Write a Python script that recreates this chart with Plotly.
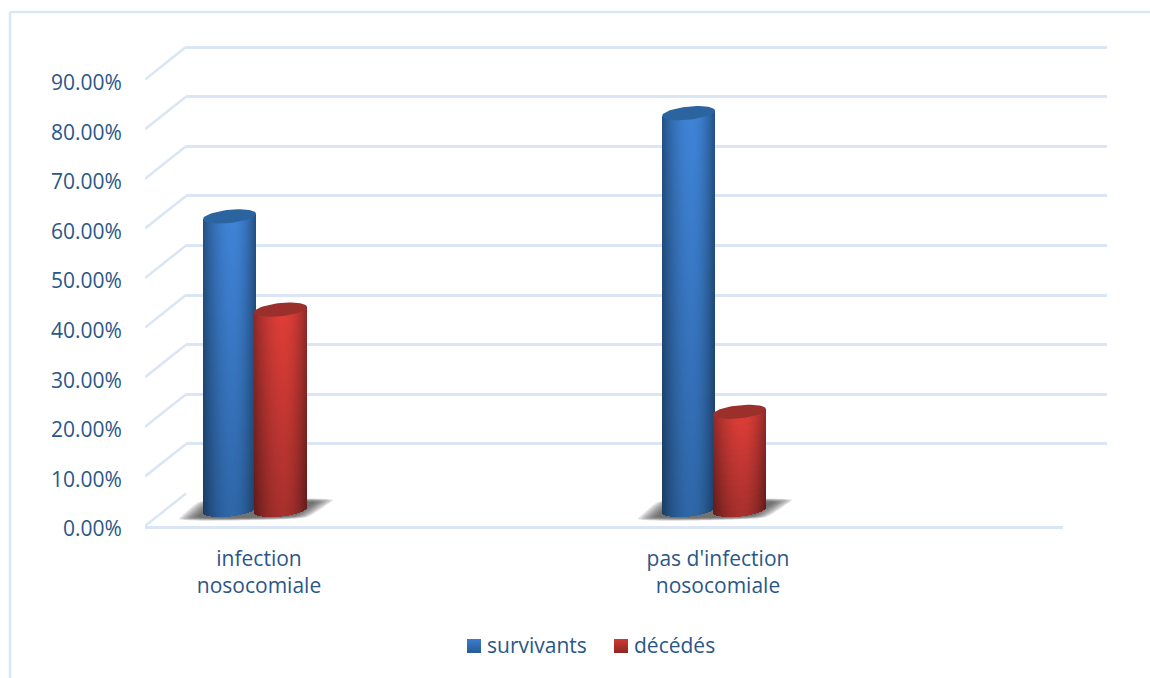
import math
import plotly.graph_objects as go

W, H = 1150, 678

categories = ["infection<br>nosocomiale", "pas d'infection<br>nosocomiale"]
survivants = [59.2, 80.0]
decedes = [40.4, 19.8]
y_ticks = [0, 10, 20, 30, 40, 50, 60, 70, 80, 90]
y_tick_labels = ["0.00%", "10.00%", "20.00%", "30.00%", "40.00%", "50.00%", "60.00%", "70.00%", "80.00%", "90.00%"]

# scene geometry (pixels)
FRONT_L, FRONT_R, FRONT_0 = 145, 1063, 526
BACK_L, BACK_R, BACK_0 = 186, 1107, 493.5
TOP = 30
CAT0_PX, CAT_STEP = 259, 459
PX_Y = 49.6 / 10  # pixels per percentage point
GRID = "#dae5f5"
TXT = "#2a5788"
FONT = "Open Sans"
FS = 21

x_range = [(FRONT_L - CAT0_PX) / CAT_STEP, (FRONT_R - CAT0_PX) / CAT_STEP]
y_range = [0, (FRONT_0 - TOP) / PX_Y]
back_y_range = [0, (BACK_0 - TOP) / PX_Y]
dx = lambda px: px / CAT_STEP
dy = lambda px: px / PX_Y

MID = dy(16)            # floor position of the cylinders' axis
A, B, TILT = 26.5, 6.6, 2.6
OFFSETS = {"blue": -29.5, "red": 21.5}


def mix(c1, c2, f):
    return tuple(a + (b - a) * f for a, b in zip(c1, c2))


PAL = {
    "blue": dict(top=(64, 132, 216), bot=(47, 103, 168), etop=(36, 80, 130), ebot=(26, 60, 98), cap="#2c649f", mid="#3470b8",
                 sw_top=(60, 125, 205), sw_bot=(40, 90, 150)),
    "red": dict(top=(224, 62, 56), bot=(166, 48, 45), etop=(142, 42, 40), ebot=(96, 28, 26), cap="#9b2f2b", mid="#c5332f",
                sw_top=(208, 58, 52), sw_bot=(140, 38, 36)),
}
LEGEND_SW = {"blue": 467, "red": 614}


def cylinder(cat_i, value, key):
    p = PAL[key]
    cx = cat_i + dx(OFFSETS[key])
    xs, bases, hs, cols = [], [], [], []
    n = 53
    step = 2 * A / n
    top_c = value + MID
    for i in range(n):
        px = -A + (i + 0.5) * step
        t = px / A
        bottom = MID + dy(TILT * t) - dy(B * math.sqrt(max(0, 1 - t * t)))
        top = top_c + dy(TILT * t)
        q = abs(t - 0.12) / (1.12 if t < 0.12 else 0.88)
        edge = q ** 1.9
        rows = max(2, int((top - bottom) * PX_Y / 6))
        for r in range(rows):
            y0 = bottom + (top - bottom) * r / rows
            y1 = bottom + (top - bottom) * (r + 1) / rows
            v = (r + 0.5) / rows
            col = mix(mix(p["ebot"], p["etop"], v), mix(p["bot"], p["top"], v), 1 - edge)
            xs.append(cx + dx(px))
            bases.append(y0)
            hs.append(y1 - y0)
            cols.append("rgb(%d,%d,%d)" % col)
    body = go.Bar(x=xs, y=hs, base=bases, width=dx(step), marker=dict(color=cols, line=dict(width=0)),
                  xaxis="x3", yaxis="y3", showlegend=False, hoverinfo="skip")
    cap_x, cap_y = [], []
    for k in range(61):
        s = 2 * math.pi * k / 60
        cap_x.append(cx + dx(A * math.cos(s)))
        cap_y.append(top_c + dy(TILT * math.cos(s) + B * math.sin(s)))
    cap = go.Scatter(x=cap_x, y=cap_y, fill="toself", fillcolor=p["cap"], mode="lines", line=dict(width=0),
                     xaxis="x3", yaxis="y3", showlegend=False, hoverinfo="skip")
    return body, cap


def shadow(cat_i):
    shape = [(-80, 7), (-74, 13), (-60, 24), (0, 27), (74, 26), (66, 20), (48, 9), (0, 6)]
    cx, cy = -3, 16
    out = []
    for k in range(8):
        f = 1.0 - 0.035 * k
        xs = [cat_i + dx(cx + (a - cx) * f) for a, _ in shape + shape[:1]]
        ys = [dy(cy + (b - cy) * f) for _, b in shape + shape[:1]]
        out.append(go.Scatter(x=xs, y=ys, fill="toself", fillcolor="rgba(60,60,60,0.14)", mode="lines",
                              line=dict(width=0, shape="spline", smoothing=0.6), xaxis="x2", yaxis="y2",
                              showlegend=False, hoverinfo="skip"))
    return out


fig = go.Figure()

# back wall subplot: carries the back gridlines
fig.add_trace(go.Scatter(x=[0] * len(y_ticks), y=y_ticks, mode="markers", marker=dict(opacity=0),
                         xaxis="x", yaxis="y", showlegend=False, hoverinfo="skip"))

# side wall lines from the front scale to the back wall
side_x, side_y = [], []
for v in y_ticks:
    side_x += [x_range[0], x_range[0] + dx(BACK_L - FRONT_L), None]
    side_y += [v, v + dy(FRONT_0 - BACK_0), None]
fig.add_trace(go.Scatter(x=side_x, y=side_y, mode="lines", line=dict(color=GRID, width=2.5),
                         xaxis="x2", yaxis="y2", showlegend=False, hoverinfo="skip"))

for i in range(len(categories)):
    for tr in shadow(i):
        fig.add_trace(tr)

# named series: these give the legend entries; the shaded cylinders are drawn from the same values
fig.add_trace(go.Bar(x=[i + dx(OFFSETS["blue"]) for i in range(2)], y=survivants, base=MID, width=dx(40),
                     marker=dict(color=PAL["blue"]["mid"], line=dict(width=0)), opacity=0, name="survivants",
                     xaxis="x3", yaxis="y3", hoverinfo="skip"))
fig.add_trace(go.Bar(x=[i + dx(OFFSETS["red"]) for i in range(2)], y=decedes, base=MID, width=dx(40),
                     marker=dict(color=PAL["red"]["mid"], line=dict(width=0)), opacity=0, name="décédés",
                     xaxis="x3", yaxis="y3", hoverinfo="skip"))

caps = []
for i in range(2):
    for key, vals in (("blue", survivants), ("red", decedes)):
        b, c = cylinder(i, vals[i], key)
        fig.add_trace(b)
        caps.append(c)
for c in caps:
    fig.add_trace(c)

shapes = [
    dict(type="line", xref="paper", yref="paper", x0=10 / W, x1=1, y0=1 - 12 / H, y1=1 - 12 / H,
         line=dict(color=GRID, width=2.5), layer="below"),
    dict(type="line", xref="paper", yref="paper", x0=10 / W, x1=10 / W, y0=1 - 12 / H, y1=0,
         line=dict(color=GRID, width=2.5), layer="below"),
]
# gradient legend swatches
for key, left in LEGEND_SW.items():
    p = PAL[key]
    for r in range(14):
        c = mix(p["sw_top"], p["sw_bot"], (r + 0.5) / 14)
        shapes.append(dict(type="rect", xref="paper", yref="paper", x0=left / W, x1=(left + 14) / W,
                           y0=1 - (639 + r) / H, y1=1 - 653 / H,
                           fillcolor="rgb(%d,%d,%d)" % c, line=dict(width=0), layer="above"))

fig.update_layout(
    width=W, height=H, autosize=False,
    margin=dict(l=0, r=0, t=0, b=0, pad=0, autoexpand=False),
    paper_bgcolor="white", plot_bgcolor="rgba(0,0,0,0)",
    barmode="overlay", bargap=0,
    font=dict(family=FONT, size=FS, color=TXT),
    xaxis=dict(domain=[BACK_L / W, BACK_R / W], range=[0, 1], visible=False, anchor="y", fixedrange=True),
    yaxis=dict(domain=[1 - BACK_0 / H, 1 - TOP / H], range=back_y_range, tickvals=y_ticks, showticklabels=False,
               showgrid=True, gridcolor=GRID, gridwidth=2.5, zeroline=False, showline=False, ticks="",
               anchor="x", fixedrange=True),
    xaxis2=dict(domain=[FRONT_L / W, FRONT_R / W], range=x_range, visible=False, anchor="y2", fixedrange=True),
    yaxis2=dict(domain=[1 - FRONT_0 / H, 1 - TOP / H], range=y_range, visible=False, anchor="x2", fixedrange=True),
    xaxis3=dict(domain=[FRONT_L / W, FRONT_R / W], range=x_range, tickvals=[0, 1], ticktext=categories,
                showgrid=False, zeroline=False, showline=True, linecolor=GRID, linewidth=2.5,
                ticks="outside", ticklen=12, tickcolor="rgba(0,0,0,0)", tickfont=dict(family=FONT, size=FS, color=TXT),
                anchor="y3", fixedrange=True),
    yaxis3=dict(domain=[1 - FRONT_0 / H, 1 - TOP / H], range=y_range, tickvals=y_ticks, ticktext=y_tick_labels,
                showgrid=False, zeroline=False, showline=False, ticklabelshift=3,
                ticks="outside", ticklen=18, tickcolor="rgba(0,0,0,0)", tickfont=dict(family=FONT, size=FS, color=TXT),
                anchor="x3", fixedrange=True),
    legend=dict(orientation="h", xref="container", yref="container", x=447 / W, xanchor="left",
                y=1 - 645 / H, yanchor="middle",
                font=dict(family=FONT, size=FS, color=TXT), bgcolor="rgba(0,0,0,0)",
                entrywidth=102, entrywidthmode="pixels",
                traceorder="normal", itemclick=False, itemdoubleclick=False),
    shapes=shapes,
)

fig.write_html("out.html", config=dict(displayModeBar=False, responsive=False),
               default_width="1150px", default_height="678px",
               post_script="document.body.style.margin='0';document.body.style.overflow='hidden';")
